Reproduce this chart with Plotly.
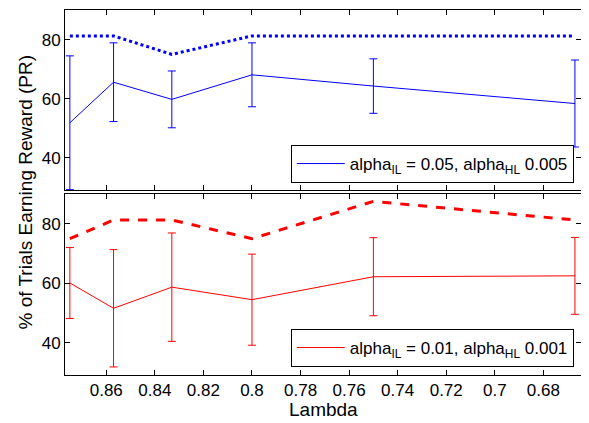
import plotly.graph_objects as go

lam = [0.875, 0.857, 0.833, 0.8, 0.75, 0.667]

blue_mean = [51.9, 65.6, 59.8, 68.1, 64.3, 58.4]
blue_err = [22.6, 13.3, 9.6, 10.8, 9.2, 14.7]
blue_max = [81.25, 81.25, 75.0, 81.25, 81.25, 81.25]

red_mean = [60.1, 51.6, 58.7, 54.5, 62.2, 62.5]
red_err = [11.9, 19.7, 18.2, 15.3, 13.1, 12.9]
red_max = [75.0, 81.25, 81.25, 75.0, 87.5, 81.25]

blue_label = "alpha<sub>IL</sub> = 0.05, alpha<sub>HL</sub> 0.005"
red_label = "alpha<sub>IL</sub> = 0.01, alpha<sub>HL</sub> 0.001"

xticks = [0.86, 0.84, 0.82, 0.8, 0.78, 0.76, 0.74, 0.72, 0.7, 0.68]
xtext = ["0.86", "0.84", "0.82", "0.8", "0.78", "0.76", "0.74", "0.72", "0.7", "0.68"]
yticks = [40, 60, 80]

BLUE = "rgb(0,0,255)"
RED = "rgb(255,0,0)"
FONT = "Liberation Sans, Arial, sans-serif"

fig = go.Figure()

fig.add_trace(go.Scatter(x=lam, y=blue_max, mode="lines", xaxis="x", yaxis="y",
                         line=dict(color=BLUE, width=3, dash="dot"), showlegend=False))
fig.add_trace(go.Scatter(x=lam, y=blue_mean, mode="lines", xaxis="x", yaxis="y",
                         line=dict(color=BLUE, width=1), name=blue_label, legend="legend",
                         cliponaxis=False,
                         error_y=dict(type="data", array=blue_err, color=BLUE, thickness=1, width=4)))

fig.add_trace(go.Scatter(x=lam, y=red_max, mode="lines", xaxis="x2", yaxis="y2",
                         line=dict(color=RED, width=3, dash="dash"), showlegend=False))
fig.add_trace(go.Scatter(x=lam, y=red_mean, mode="lines", xaxis="x2", yaxis="y2",
                         line=dict(color=RED, width=1), name=red_label, legend="legend2",
                         cliponaxis=False,
                         error_y=dict(type="data", array=red_err, color=RED, thickness=1, width=4)))

ax_common = dict(showline=True, linecolor="black", linewidth=1, mirror="ticks",
                 ticks="inside", ticklen=5, tickcolor="black", showgrid=False, zeroline=False,
                 automargin=False,
                 tickfont=dict(family=FONT, size=17, color="black"))

leg_common = dict(bordercolor="black", borderwidth=1, bgcolor="white", itemwidth=48,
                  font=dict(family=FONT, size=17, color="black"))

# page body has an 8px default margin, so the figure is sized to fill the window
fig.update_layout(
    width=581, height=415,
    margin=dict(l=57, r=8, t=2, b=48, pad=0),
    paper_bgcolor="white", plot_bgcolor="white",
    font=dict(family=FONT, size=17, color="black"),
    xaxis=dict(domain=[0, 1], anchor="y", range=[0.877, 0.6645], tickvals=xticks,
               showticklabels=False, **ax_common),
    yaxis=dict(domain=[0.507, 1], anchor="x", range=[29.2, 90], tickvals=yticks, **ax_common),
    xaxis2=dict(domain=[0, 1], anchor="y2", range=[0.877, 0.6645], tickvals=xticks,
                ticktext=xtext, **ax_common),
    yaxis2=dict(domain=[0, 0.496], anchor="x2", range=[29.2, 90], tickvals=yticks, **ax_common),
    legend=dict(x=0.986, xanchor="right", y=0.526, yanchor="bottom", **leg_common),
    legend2=dict(x=0.986, xanchor="right", y=0.022, yanchor="bottom", **leg_common),
    annotations=[
        dict(text="% of Trials Earning Reward (PR)", xref="paper", yref="paper",
             x=-0.0775, y=0.5, textangle=-90, showarrow=False,
             xanchor="center", yanchor="middle",
             font=dict(family=FONT, size=19, color="black")),
        dict(text="Lambda", xref="paper", yref="paper",
             x=0.5, y=-0.129, showarrow=False, xanchor="center", yanchor="bottom",
             font=dict(family=FONT, size=19, color="black")),
    ],
)

fig.write_html("out.html")
